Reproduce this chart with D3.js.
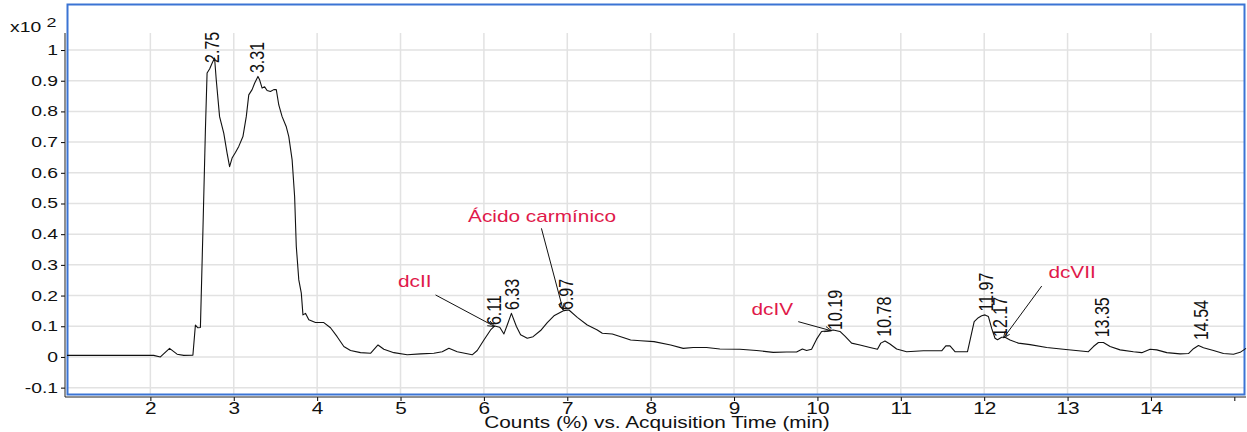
<!DOCTYPE html>
<html>
<head>
<meta charset="utf-8">
<script src="https://cdn.jsdelivr.net/npm/d3@7"></script>
<style>
  body { margin: 0; background: white; }
  text { font-family: "Liberation Sans", Arial, sans-serif; }
</style>
</head>
<body>
<div id="chart"></div>
<script>
// acquisition time (min) and counts (x10^2)
var times = [1.0, 2.04, 2.12, 2.23, 2.32, 2.40, 2.51, 2.54, 2.57, 2.60, 2.63, 2.66, 2.68, 2.71, 2.74, 2.77, 2.79, 2.83, 2.88, 2.92,
  2.95, 2.98, 3.02, 3.06, 3.11, 3.15, 3.18, 3.22, 3.25, 3.29, 3.31, 3.34, 3.37, 3.40, 3.44, 3.48, 3.51, 3.54, 3.58, 3.63,
  3.66, 3.70, 3.73, 3.75, 3.78, 3.81, 3.83, 3.86, 3.90, 3.98, 4.08, 4.16, 4.24, 4.32, 4.40, 4.52, 4.64, 4.73, 4.80, 4.92,
  5.08, 5.24, 5.40, 5.50, 5.58, 5.68, 5.86, 5.92, 6.00, 6.08, 6.13, 6.19, 6.24, 6.28, 6.33, 6.39, 6.44, 6.52, 6.59, 6.68,
  6.76, 6.84, 6.96, 7.02, 7.12, 7.24, 7.36, 7.42, 7.54, 7.66, 7.76, 7.88, 8.04, 8.24, 8.39, 8.51, 8.67, 8.83, 9.07, 9.27,
  9.47, 9.63, 9.75, 9.82, 9.87, 9.93, 9.99, 10.05, 10.12, 10.19, 10.27, 10.33, 10.41, 10.51, 10.63, 10.72, 10.76, 10.81, 10.87, 10.95,
  11.07, 11.27, 11.49, 11.54, 11.59, 11.65, 11.80, 11.84, 11.88, 11.93, 11.97, 12.01, 12.05, 12.09, 12.13, 12.16, 12.21, 12.25, 12.31, 12.41,
  12.55, 12.75, 12.95, 13.25, 13.31, 13.37, 13.43, 13.51, 13.63, 13.79, 13.89, 13.99, 14.07, 14.19, 14.35, 14.45, 14.51, 14.57, 14.63, 14.75,
  14.87, 14.99, 15.07, 15.14];
var counts = [0.005, 0.005, 0.0, 0.028, 0.009, 0.005, 0.006, 0.104, 0.095, 0.096, 0.41, 0.74, 0.925, 0.938, 0.957, 0.974, 0.903, 0.783, 0.729, 0.664,
  0.62, 0.648, 0.666, 0.686, 0.718, 0.783, 0.854, 0.871, 0.892, 0.914, 0.903, 0.876, 0.88, 0.868, 0.865, 0.871, 0.871, 0.821, 0.783, 0.75,
  0.718, 0.642, 0.522, 0.36, 0.251, 0.208, 0.137, 0.142, 0.121, 0.112, 0.112, 0.095, 0.066, 0.034, 0.021, 0.014, 0.012, 0.039, 0.025, 0.014,
  0.007, 0.010, 0.012, 0.017, 0.028, 0.017, 0.007, 0.021, 0.055, 0.088, 0.101, 0.097, 0.075, 0.104, 0.142, 0.099, 0.072, 0.061, 0.066, 0.086,
  0.112, 0.134, 0.151, 0.153, 0.129, 0.104, 0.088, 0.077, 0.075, 0.064, 0.055, 0.053, 0.050, 0.039, 0.028, 0.031, 0.031, 0.026, 0.025, 0.021,
  0.015, 0.016, 0.016, 0.026, 0.021, 0.025, 0.058, 0.083, 0.085, 0.088, 0.083, 0.068, 0.045, 0.039, 0.031, 0.025, 0.045, 0.052, 0.042, 0.026,
  0.017, 0.020, 0.020, 0.036, 0.036, 0.017, 0.017, 0.066, 0.115, 0.128, 0.134, 0.137, 0.132, 0.093, 0.061, 0.056, 0.064, 0.064, 0.055, 0.045,
  0.040, 0.031, 0.025, 0.017, 0.034, 0.047, 0.047, 0.034, 0.023, 0.017, 0.014, 0.025, 0.023, 0.014, 0.010, 0.011, 0.027, 0.037, 0.030, 0.021,
  0.011, 0.009, 0.015, 0.028];

// peak retention time labels: text, anchor time, anchor value
var peakLabels = ["2.75", "3.31", "6.11", "6.33", "6.97", "10.19", "10.78", "11.97", "12.17", "13.35", "14.54"];
var peakLabelTimes = [2.74, 3.28, 6.12, 6.33, 6.98, 10.21, 10.80, 12.02, 12.19, 13.41, 14.60];
var peakLabelValues = [0.958, 0.925, 0.104, 0.153, 0.153, 0.088, 0.066, 0.148, 0.065, 0.064, 0.055];

// red compound annotations with leader lines
var noteLabels = ["dcII", "Ácido carmínico", "dcIV", "dcVII"];
var noteTimes = [4.97, 5.81, 9.21, 12.77];
var noteValues = [0.228, 0.441, 0.137, 0.256];
var noteLineFrom = [[5.42, 0.202], [6.69, 0.419], [9.77, 0.115], [12.69, 0.231]];
var noteLineTo = [[6.13, 0.099], [6.95, 0.153], [10.17, 0.085], [12.23, 0.061]];

var yTicks = [-0.1, 0, 0.1, 0.2, 0.3, 0.4, 0.5, 0.6, 0.7, 0.8, 0.9, 1];
var yTickLabels = ["-0.1", "0", "0.1", "0.2", "0.3", "0.4", "0.5", "0.6", "0.7", "0.8", "0.9", "1"];
var xTicks = [2, 3, 4, 5, 6, 7, 8, 9, 10, 11, 12, 13, 14, 15];
var xTickLabels = ["2", "3", "4", "5", "6", "7", "8", "9", "10", "11", "12", "13", "14", ""];

var w = 1247, h = 432;
var stretch = 1.3; // the source image is widened, so glyphs are too

var svg = d3.select("#chart")
  .append("svg")
  .attr("width", w)
  .attr("height", h);

var x = d3.scaleLinear().domain([1.0, 15.14]).range([67, 1246]);
var y = d3.scaleLinear().domain([-0.124, 1.15]).range([395, 4]);

// grid
svg.append("g").selectAll("line")
  .data(yTicks)
  .enter()
  .append("line")
  .attr("x1", 67).attr("x2", 1245)
  .attr("y1", function(d) { return y(d); })
  .attr("y2", function(d) { return y(d); })
  .attr("stroke", "#e2e2e2")
  .attr("stroke-width", 1.5);

svg.append("g").selectAll("line")
  .data(xTicks.slice(0, 13))
  .enter()
  .append("line")
  .attr("x1", function(d) { return x(d); })
  .attr("x2", function(d) { return x(d); })
  .attr("y1", 33).attr("y2", 395)
  .attr("stroke", "#e2e2e2")
  .attr("stroke-width", 1.5);

// plot frame
svg.append("rect")
  .attr("x", 67.5).attr("y", 4.5)
  .attr("width", 1177).attr("height", 390)
  .attr("fill", "none")
  .attr("stroke", "#3b74d4")
  .attr("stroke-width", 2);

// axes
var yAxis = d3.axisLeft(y)
  .tickValues(yTicks)
  .tickFormat(function(d, i) { return yTickLabels[i]; })
  .tickSize(4)
  .tickPadding(3);

var gy = svg.append("g")
  .attr("transform", "translate(65,0)")
  .call(yAxis);
gy.select(".domain").remove();
gy.append("line")
  .attr("x1", 0).attr("x2", 0)
  .attr("y1", 33).attr("y2", 397)
  .attr("stroke", "#222");
gy.selectAll(".tick text")
  .attr("font-size", 14)
  .attr("fill", "#111")
  .attr("transform", function() {
    var tx = +d3.select(this).attr("x");
    return "translate(" + tx + ",0) scale(" + 1.38 + ",1) translate(" + (-tx) + ",0)";
  });

var xAxis = d3.axisBottom(x)
  .tickValues(xTicks)
  .tickFormat(function(d, i) { return xTickLabels[i]; })
  .tickSize(4)
  .tickPadding(2);

var gx = svg.append("g")
  .attr("transform", "translate(0,397)")
  .call(xAxis);
gx.select(".domain").remove();
gx.append("line")
  .attr("x1", 65).attr("x2", 1246)
  .attr("stroke", "#222");
gx.selectAll(".tick text")
  .attr("font-size", 16)
  .attr("fill", "#111")
  .attr("transform", "scale(" + stretch + ",1)");

// multiplier label
var mult = svg.append("text")
  .attr("transform", "translate(10,32) scale(1.38,1)")
  .attr("font-size", 14)
  .attr("fill", "#111");
mult.append("tspan").text("x10 ");
mult.append("tspan").attr("dy", -5).attr("font-size", 13).text("2");

// axis title
svg.append("text")
  .attr("transform", "translate(657,428) scale(" + stretch + ",1)")
  .attr("text-anchor", "middle")
  .attr("font-size", 16)
  .attr("fill", "#111")
  .text("Counts (%) vs. Acquisition Time (min)");

// trace
var points = times.map(function(t, i) { return {x: t, y: counts[i]}; });
var line = d3.line()
  .x(function(d) { return x(d.x); })
  .y(function(d) { return y(d.y); });

svg.append("path")
  .datum(points)
  .attr("fill", "none")
  .attr("stroke", "#111")
  .attr("stroke-width", 1.1)
  .attr("stroke-linejoin", "round")
  .attr("d", line);

// peak labels, rotated
svg.append("g").selectAll("text")
  .data(peakLabels)
  .enter()
  .append("text")
  .attr("transform", function(d, i) {
    return "translate(" + x(peakLabelTimes[i]) + "," + y(peakLabelValues[i]) + ") scale(" + stretch + ",1) rotate(-90)";
  })
  .attr("dy", "0.35em")
  .attr("font-size", 16)
  .attr("fill", "#111")
  .text(function(d) { return d; });

// leader lines
svg.append("defs").append("marker")
  .attr("id", "arrow")
  .attr("viewBox", "0 0 10 10")
  .attr("refX", 10).attr("refY", 5)
  .attr("markerWidth", 7).attr("markerHeight", 7)
  .attr("orient", "auto")
  .append("path")
  .attr("d", "M0,1 L10,5 L0,9")
  .attr("fill", "none")
  .attr("stroke", "#111")
  .attr("stroke-width", 1.2);

svg.append("g").selectAll("line")
  .data(noteLabels)
  .enter()
  .append("line")
  .attr("x1", function(d, i) { return x(noteLineFrom[i][0]); })
  .attr("y1", function(d, i) { return y(noteLineFrom[i][1]); })
  .attr("x2", function(d, i) { return x(noteLineTo[i][0]); })
  .attr("y2", function(d, i) { return y(noteLineTo[i][1]); })
  .attr("stroke", "#111")
  .attr("stroke-width", 1)
  .attr("marker-end", "url(#arrow)");

svg.append("g").selectAll("text")
  .data(noteLabels)
  .enter()
  .append("text")
  .attr("transform", function(d, i) {
    return "translate(" + x(noteTimes[i]) + "," + y(noteValues[i]) + ") scale(" + stretch + ",1)";
  })
  .attr("font-size", 16)
  .attr("fill", "#e0194a")
  .text(function(d) { return d; });
</script>
</body>
</html>
